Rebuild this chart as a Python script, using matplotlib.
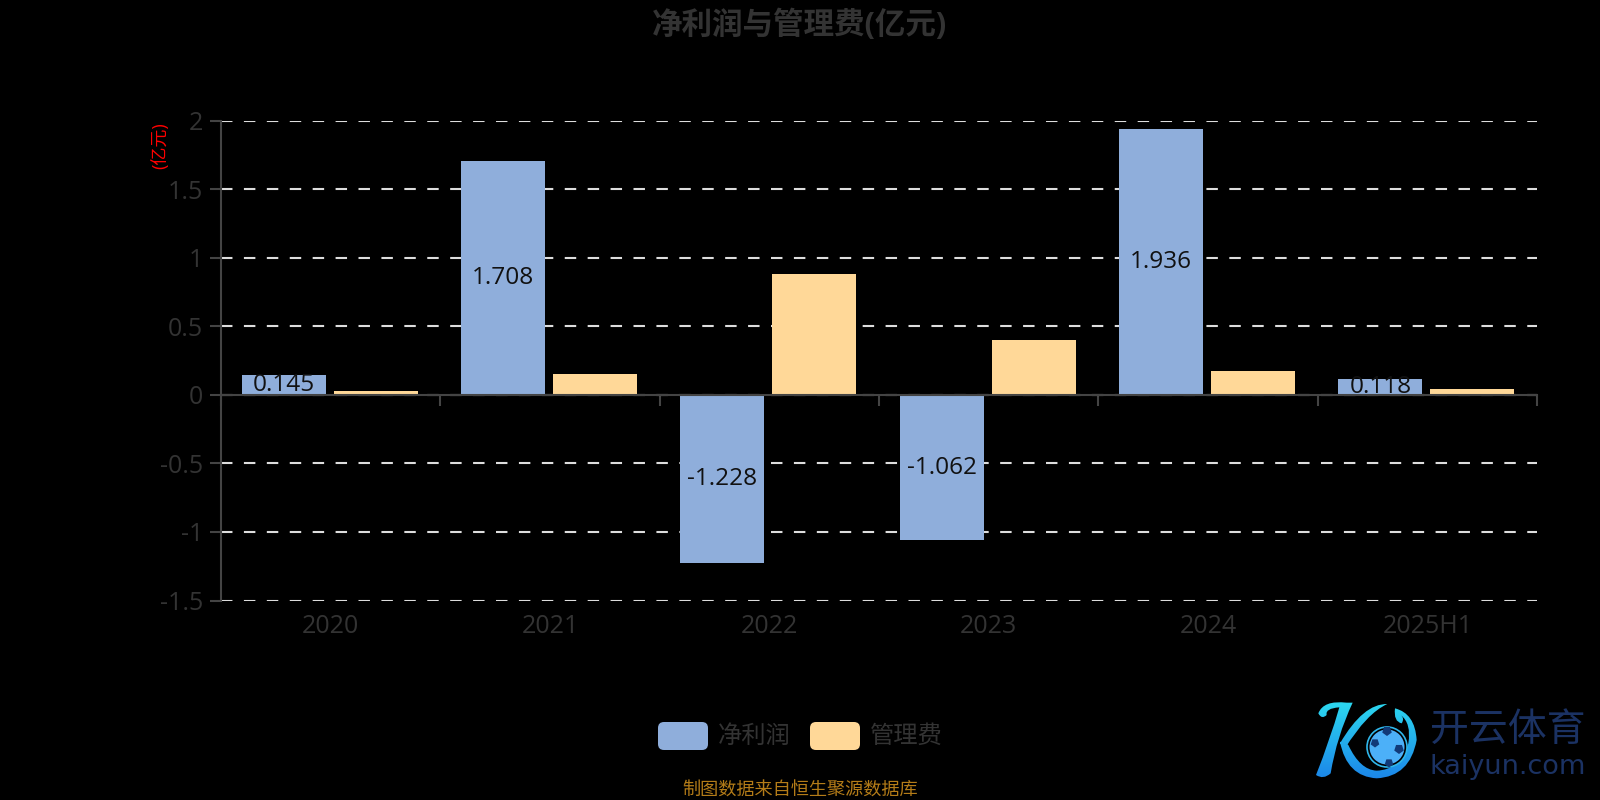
import numpy as np
import matplotlib
matplotlib.use('Agg')
import matplotlib.pyplot as plt
from matplotlib.patches import FancyBboxPatch, Circle, PathPatch, RegularPolygon
from matplotlib.path import Path

plt.rcParams['font.family'] = ['Open Sans', 'Noto Sans CJK SC', 'DejaVu Sans']

categories = ['2020', '2021', '2022', '2023', '2024', '2025H1']
net_profit = [0.145, 1.708, -1.228, -1.062, 1.936, 0.118]
admin_fee = [0.025, 0.155, 0.88, 0.40, 0.17, 0.045]
y_ticks = [-1.5, -1, -0.5, 0, 0.5, 1, 1.5, 2]
y_tick_labels = ['-1.5', '-1', '-0.5', '0', '0.5', '1', '1.5', '2']

BLUE = '#8FAEDB'
ORANGE = '#FFD898'
AXIS = '#444444'
TEXT = '#333333'
W, H = 1600, 800

fig = plt.figure(figsize=(16, 8), dpi=100, facecolor='black')

# plot area in pixels: x 221-1537, y 120.5-600.5
ax = fig.add_axes([221 / W, 1 - 600.5 / H, 1316 / W, 480 / H], facecolor='black')
x = np.arange(len(categories))
px_unit = 1316 / 6
bar_w = 84 / px_unit
off = 46 / px_unit
shift = -1 / px_unit
ax.bar(x - off + shift, net_profit, bar_w, color=BLUE, zorder=3)
ax.bar(x + off + shift, admin_fee, bar_w, color=ORANGE, zorder=3)

for xi, v in zip(x, net_profit):
    ax.text(xi - off + shift, v / 2, f'{v:.3f}', ha='center', va='center', fontsize=17.6,
            color='#111111', zorder=4)

ax.set_xlim(-0.5, len(categories) - 0.5)
ax.set_ylim(-1.5, 2)
ax.set_yticks(y_ticks)
ax.set_yticklabels(y_tick_labels)
ax.tick_params(axis='y', length=8, width=1.5, color=AXIS, labelcolor=TEXT, labelsize=18, pad=5)
ax.set_xticks(np.arange(len(categories) + 1) - 0.5)
ax.set_xticklabels([])
ax.tick_params(axis='x', length=8, width=1.5, color=AXIS)
ax.grid(axis='y', color='#dddddd', lw=1.5, ls=(0, (5.5, 5.5)), zorder=1)
ax.set_axisbelow(True)

for s in ['top', 'right']:
    ax.spines[s].set_visible(False)
ax.spines['left'].set_color(AXIS)
ax.spines['left'].set_linewidth(1.5)
ax.spines['bottom'].set_position(('data', 0))
ax.spines['bottom'].set_color(AXIS)
ax.spines['bottom'].set_linewidth(1.5)
ax.spines['bottom'].set_zorder(5)

for xi, c in zip(x, categories):
    ax.annotate(c, (xi, -1.5), xytext=(0, -10), textcoords='offset points',
                ha='center', va='top', fontsize=18, color=TEXT)

# overlay in pixel coordinates for title, legend, source and logo
ov = fig.add_axes([0, 0, 1, 1], facecolor='none')
ov.set_xlim(0, W)
ov.set_ylim(H, 0)
ov.axis('off')

ov.text(800, 25, '净利润与管理费(亿元)', ha='center', va='center', fontsize=22,
        fontweight='bold', color=TEXT)
ov.text(160, 146, '(亿元)', rotation=90, ha='center', va='center', fontsize=13, color='#ff0000')

legend_items = [('净利润', BLUE, 658), ('管理费', ORANGE, 810)]
for name, col, px in legend_items:
    ov.add_patch(FancyBboxPatch((px + 6, 728), 38, 16, boxstyle='round,pad=6',
                                fc=col, ec='none'))
    ov.text(px + 60, 737, name, ha='left', va='center', fontsize=17.5, color=TEXT)

ov.text(800, 791, '制图数据来自恒生聚源数据库', ha='center', va='center', fontsize=13.1, color='#B47C18')


def logo_pts(seq):
    return [(1280 + a / 3, 680 + b / 3) for a, b in seq]


# logo: swoosh K as closed curves, filled with a vertical gradient
stem = [(200, 68), (130, 60), (115, 100), (125, 120), (140, 105), (135, 85), (178, 82),
        (150, 180), (108, 285), (130, 300), (152, 280), (170, 170), (218, 68)]
arm = [(322, 72), (250, 70), (180, 190), (188, 198), (195, 205), (260, 100), (322, 72)]
leg = [(180, 185), (200, 290), (290, 295), (390, 290), (410, 180), (405, 100), (345, 85),
       (340, 125), (365, 130), (375, 115), (362, 105), (395, 130), (385, 190), (360, 270),
       (290, 272), (240, 270), (205, 195)]
verts, codes = [], []
for shape in [stem, arm, leg]:
    verts += logo_pts(shape) + logo_pts(shape[:1])
    codes += [Path.MOVETO] + [Path.CURVE3] * (len(shape) - 1) + [Path.CLOSEPOLY]
patch = PathPatch(Path(verts, codes), fc='none', ec='none', transform=ov.transData)
ov.add_patch(patch)
grad = np.linspace(0, 1, 256).reshape(-1, 1)
cmap = matplotlib.colors.LinearSegmentedColormap.from_list('k', ['#2ee0f0', '#1a7fe8'])
im = ov.imshow(grad, extent=(1300, 1430, 785, 695), cmap=cmap, aspect='auto', zorder=2)
im.set_clip_path(patch)
ov.set_xlim(0, W)
ov.set_ylim(H, 0)

ov.add_patch(Circle((1387, 747), 20, fc='black', ec='#2fb6ea', lw=1.2, zorder=3))
ov.add_patch(Circle((1387, 747), 17.5, fc='#4cb0f8', ec='none', zorder=3))
for cx, cy, r in [(1387, 731, 5), (1375, 743, 4.5), (1399, 749, 5), (1389, 763, 4.5)]:
    ov.add_patch(RegularPolygon((cx, cy), 5, radius=r, fc='#123a78', ec='none', zorder=4))

ov.text(1430, 730, '开云体育', ha='left', va='center', fontsize=28, color='#1B3263',
        family=['Noto Sans CJK SC', 'DejaVu Sans'])
ov.text(1430, 767, 'kaiyun.com', ha='left', va='center', fontsize=19.5, color='#1B3263',
        family='DejaVu Sans')

fig.savefig('out.png', dpi=100, facecolor='black')
